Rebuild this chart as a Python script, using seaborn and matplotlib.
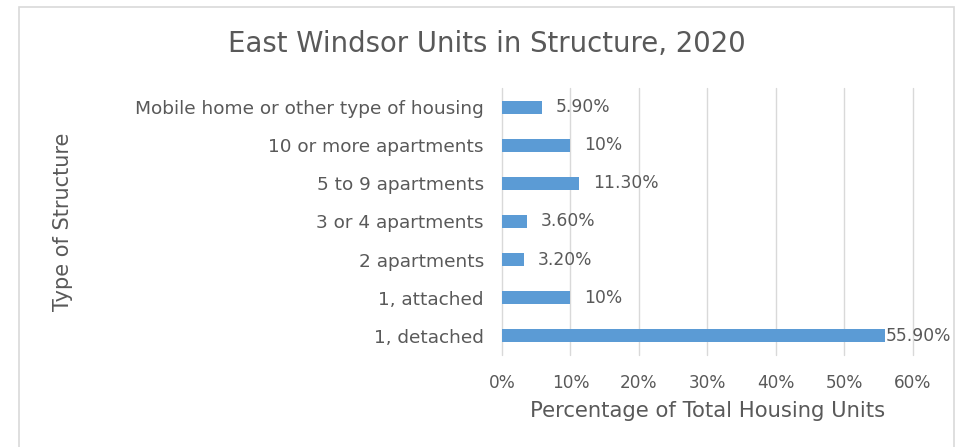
import matplotlib
matplotlib.use("Agg")
import matplotlib.pyplot as plt
import seaborn as sns
import pandas as pd
from matplotlib.patches import Rectangle

categories = ["Mobile home or other type of housing", "10 or more apartments",
              "5 to 9 apartments", "3 or 4 apartments", "2 apartments",
              "1, attached", "1, detached"]
values = [5.9, 10, 11.3, 3.6, 3.2, 10, 55.9]
value_labels = ["5.90%", "10%", "11.30%", "3.60%", "3.20%", "10%", "55.90%"]
x_ticks = [0, 10, 20, 30, 40, 50, 60]
x_tick_labels = ["0%", "10%", "20%", "30%", "40%", "50%", "60%"]

df = pd.DataFrame({"cat": categories, "val": values})

sns.set_theme(style="white")
plt.rcParams["font.family"] = ["DejaVu Sans"]
TXT = "#595959"

W, H = 963, 447
fig = plt.figure(figsize=(W / 100, H / 100), dpi=100)
fig.patch.set_facecolor("white")
fig.patches.append(Rectangle((19 / W, 1 - 460 / H), (954 - 19) / W, (460 - 7) / H,
                             transform=fig.transFigure, fill=False,
                             edgecolor="#d9d9d9", linewidth=1.2))

ax = fig.add_axes([502 / W, 1 - 355 / H, (912.7 - 502) / W, (355 - 88) / H])
sns.barplot(data=df, x="val", y="cat", order=categories, color="#5B9BD5",
            width=0.34, saturation=1, linewidth=0, ax=ax, zorder=3)

ax.set_xlim(0, 60)
ax.set_ylim(6.5, -0.5)
ax.set_xticks(x_ticks)
ax.set_xticklabels(x_tick_labels)
ax.grid(axis="x", color="#d9d9d9", linewidth=1, zorder=0)
for gl in ax.get_xgridlines():
    gl.set_clip_on(False)
for s in ax.spines.values():
    s.set_visible(False)
ax.tick_params(axis="both", length=0, colors=TXT)
ax.tick_params(axis="y", pad=13, labelsize=13.3)
ax.tick_params(axis="x", pad=14, labelsize=12.2)

for i, (v, lab) in enumerate(zip(values, value_labels)):
    off = 0.1 if v > 50 else 2.0
    ax.text(v + off, i, lab, va="center", ha="left", color=TXT, fontsize=12.3)

ax.set_xlabel("Percentage of Total Housing Units", color=TXT, fontsize=15.2, labelpad=6)
ax.set_ylabel("Type of Structure", color=TXT, fontsize=15)
ax.yaxis.set_label_coords(73 / W, 0.5 * (1 - 355 / H + 1 - 88 / H), transform=fig.transFigure)

fig.text(487 / W, 1 - 44 / H, "East Windsor Units in Structure, 2020", ha="center",
         va="center", color=TXT, fontsize=19.8)

fig.savefig("out.png", dpi=100)
